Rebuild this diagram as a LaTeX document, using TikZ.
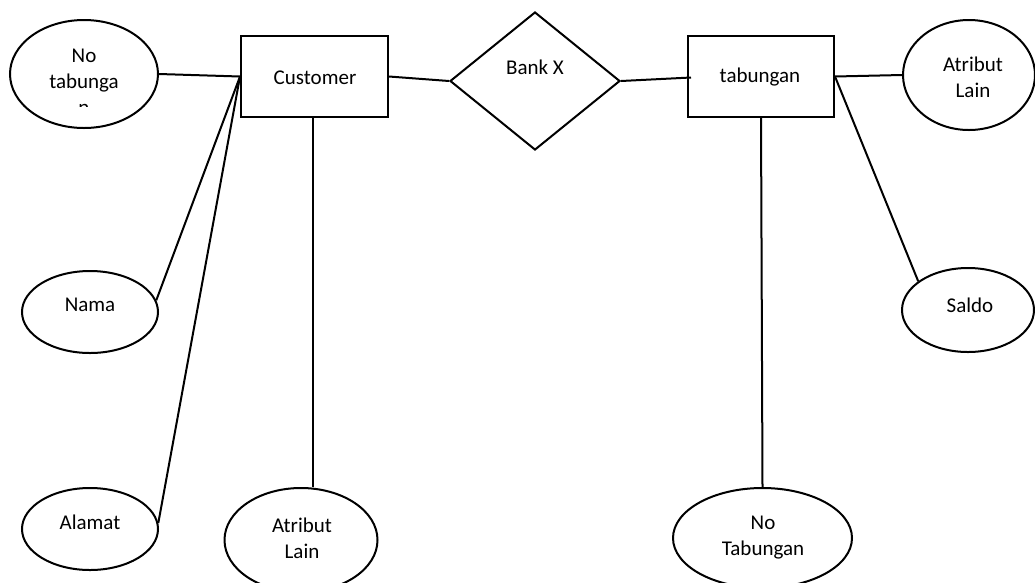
\documentclass[tikz,border=0pt]{standalone}
\usepackage{fontspec}
\setmainfont{Carlito}
\usetikzlibrary{shapes.geometric,calc}
\begin{document}
\begin{tikzpicture}[x=1pt,y=-1pt,
  ent/.style={draw,line width=2pt,rectangle,inner sep=0pt,minimum width=147pt,minimum height=81pt},
  attr/.style={draw,line width=2pt,ellipse,inner sep=0pt},
  rel/.style={draw,line width=2pt,diamond,inner sep=0pt,minimum width=170pt,minimum height=138pt},
  lbl/.style={font=\fontsize{21}{26}\selectfont,align=center,inner sep=0pt},
  link/.style={line width=2pt}]
\useasboundingbox (0,0) rectangle (1035,582);
% entities and relationship
\node[ent] (cust) at (314.5,76.5) {};
\node[ent,minimum width=146pt] (tab) at (761,76.5) {};
\node[rel] (bank) at (535,81) {};
% attributes
\node[attr,minimum width=148pt,minimum height=108pt] (notab1) at (84,74) {};
\node[attr,minimum width=136pt,minimum height=82pt] (nama) at (90,312) {};
\node[attr,minimum width=136pt,minimum height=82pt] (alamat) at (90,529) {};
\node[attr,minimum width=153pt,minimum height=104pt] (atr1) at (301,540) {};
\node[attr,minimum width=179pt,minimum height=100pt] (notab2) at (762.5,538) {};
\node[attr,minimum width=132pt,minimum height=110pt] (atr2) at (969,75) {};
\node[attr,minimum width=132pt,minimum height=84pt] (saldo) at (968,310) {};
% labels
\node[lbl] (tcust) at (315,78) {Customer};
\node[lbl] (ttab) at (760,77) {tabungan};
\node[lbl] (tbank) at (535,67) {Bank X};
\begin{scope}
  \clip (10,20) rectangle (160,106);
  \node[lbl] (tnotab1) at (84,82) {No\\tabunga\\n};
\end{scope}
\node[lbl] (tnama) at (90,305) {Nama};
\node[lbl] (talamat) at (90,522) {Alamat};
\node[lbl] (tatr1) at (302,538) {Atribut\\Lain};
\node[lbl] (tnotab2) at (763,538) {No\\Tabungan};
\node[lbl] (tatr2) at (973,77) {Atribut\\Lain};
\node[lbl] (tsaldo) at (970,305) {Saldo};
% connectors
\draw[link] (notab1.east) -- (cust.west);
\draw[link] (cust.west) -- (nama.10);
\draw[link] (cust.west) -- (alamat.5);
\draw[link] ($(cust.south)+(-2,0)$) -- ($(cust.south |- atr1.north)+(-2,0)$);
\draw[link] (cust.east) -- (bank.west);
\draw[link] (bank.east) -- ($(tab.west)+(4,1)$);
\draw[link] (tab.east) -- (atr2.west);
\draw[link] (tab.east) -- (saldo.150);
\draw[link] (tab.south) -- (notab2.north);
\end{tikzpicture}
\end{document}
